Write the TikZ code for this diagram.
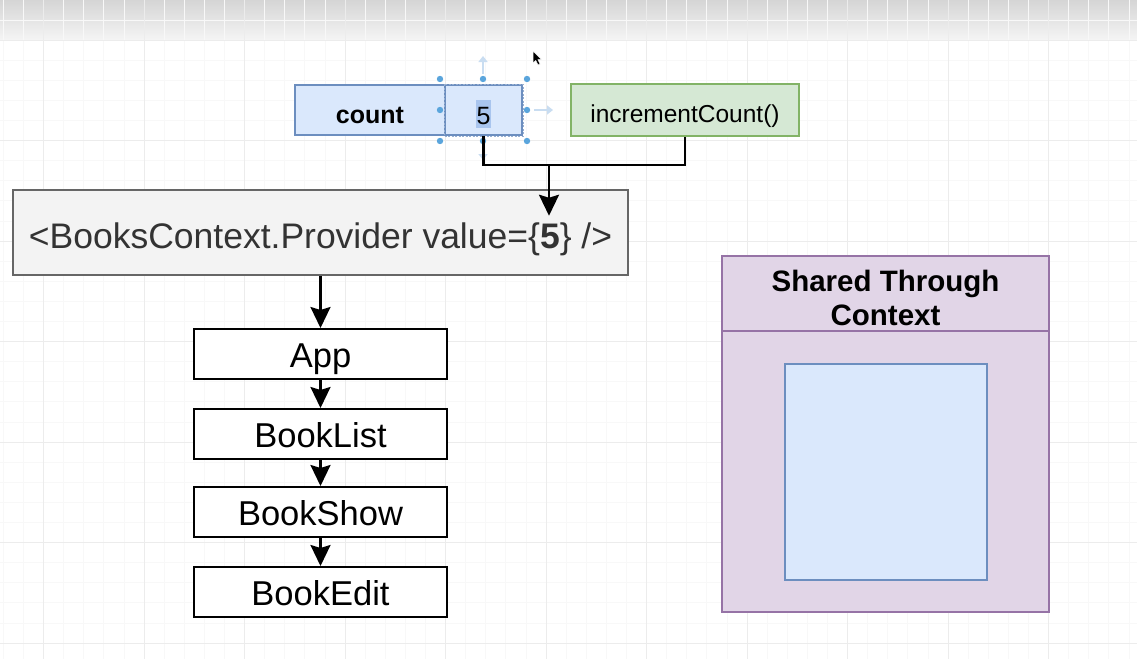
\documentclass[tikz,border=0pt]{standalone}
\usepackage{fontspec}
\setmainfont{Liberation Sans}
\setsansfont{Liberation Sans}
\usetikzlibrary{arrows.meta}

\definecolor{blueFill}{HTML}{DAE8FC}
\definecolor{blueLine}{HTML}{6C8EBF}
\definecolor{greenFill}{HTML}{D5E8D4}
\definecolor{greenLine}{HTML}{82B366}
\definecolor{purpleFill}{HTML}{E1D5E7}
\definecolor{purpleLine}{HTML}{9673A6}
\definecolor{grayFill}{HTML}{F3F3F3}
\definecolor{grayLine}{HTML}{666666}
\definecolor{darkText}{HTML}{333333}
\definecolor{gridMinor}{HTML}{F8F8F8}
\definecolor{gridMajor}{HTML}{ECECEC}
\definecolor{handleBlue}{HTML}{5AA5DC}
\definecolor{paleBlue}{HTML}{C9DDF1}
\definecolor{selBlue}{HTML}{A9C5EE}

\begin{document}
\begin{tikzpicture}[x=1pt,y=-1pt,
  cell/.style={draw, inner sep=0pt, line width=2pt},
  comp/.style={cell, draw=black, fill=white, minimum width=253pt, minimum height=50pt,
    font=\fontsize{34.5}{40}\selectfont, text height=30pt, text depth=4pt},
  conn/.style={line width=2.5pt, black},
  arr/.style={conn, -{Stealth[length=21pt 0 0,width=20pt 0 0,inset=3pt 0 0]}},
  handle/.style={fill=handleBlue},
  hint/.style={line width=2.5pt, paleBlue, -{Triangle[length=6pt,width=9pt]}}
]
\useasboundingbox (0,0) rectangle (1137,659);
\fill[white] (0,0) rectangle (1137,659);

% toolbar shadow band at the top, darker at its upper edge
\shade[top color=gray!33, bottom color=gray!8] (0,0) rectangle (1137,40);
\draw[gray!12, line width=1pt] (0,40) -- (1137,40);

% canvas grid: minor lines every 20.1, major every 100.5
\foreach \i in {0,...,57} {
  \pgfmathsetmacro{\gx}{3.3+20.1*\i}
  \draw[gridMinor, line width=0.8pt] (\gx,0) -- (\gx,659);
}
\foreach \i in {0,...,33} {
  \pgfmathsetmacro{\gy}{-0.2+20.1*\i}
  \draw[gridMinor, line width=0.8pt] (0,\gy) -- (1137,\gy);
}
\foreach \i in {0,...,11} {
  \pgfmathsetmacro{\gx}{43.5+100.5*\i}
  \draw[gridMajor, line width=1pt] (\gx,0) -- (\gx,659);
}
\foreach \i in {0,...,6} {
  \pgfmathsetmacro{\gy}{40+100.5*\i}
  \draw[gridMajor, line width=1pt] (0,\gy) -- (1137,\gy);
}

% state: count = 5
\node[cell, draw=blueLine, fill=blueFill, minimum width=150pt, minimum height=50pt,
  font=\bfseries\fontsize{25}{30}\selectfont, text height=30pt, text depth=4pt]
  (count) at (370,110) {count};
\node[cell, draw=blueLine, fill=blueFill, minimum width=77pt, minimum height=50pt]
  (five) at (483.5,110) {};
\draw[blueLine!70!white, line width=1pt, dash pattern=on 2pt off 1.5pt]
  (five.north west) rectangle (five.south east);
\fill[selBlue] (476,100) rectangle (491,128);
\node[inner sep=0pt, font=\fontsize{25}{30}\selectfont, anchor=base] (fivetext) at (483.5,124) {5};

% setter
\node[cell, draw=greenLine, fill=greenFill, minimum width=228pt, minimum height=52pt,
  font=\fontsize{24.5}{30}\selectfont, text height=30pt, text depth=6pt]
  (inc) at (685,110) {incrementCount()};

% selection handles around the value cell
\draw[hint] (483,74) -- (483,56);
\draw[hint] (534,110) -- (553,110);
\draw[hint] (483,146) -- (483,160);
\foreach \p in {(440,79),(483,79),(527,79),(440,110),(527,110),(440,141),(483,141),(527,141)}
  \fill[handle] \p circle (3.2);

% mouse pointer
\fill[black, draw=white, line width=0.5pt]
  (533,51) -- (533,63) -- (535.8,60.5) -- (538,65) -- (540,64) -- (537.9,59.6) -- (541.6,59.6) -- cycle;

% provider
\node[cell, draw=grayLine, line width=2.5pt, fill=grayFill, minimum width=615pt, minimum height=85pt,
  font=\fontsize{35.5}{40}\selectfont, text=darkText, text height=35pt, text depth=4pt]
  (prov) at (320.5,232.5) {<BooksContext.Provider value=\{{\bfseries 5}\} />};

% connectors from state and setter into the provider
\coordinate (join) at (549,165);
\path (join |- prov.north) ++(0,27) coordinate (tip);
\draw[conn] (five.south) |- (join) -| (inc.south);
\draw[arr] (join) -- (tip);

% component tree
\node[comp] (app)  at (320.5,354) {App};
\node[comp] (list) at (320.5,434) {BookList};
\node[comp] (show) at (320.5,512) {BookShow};
\node[comp] (edit) at (320.5,592) {BookEdit};
\draw[arr] (prov.south) -- (app.north);
\draw[arr] (app.south)  -- (list.north);
\draw[arr] (list.south) -- (show.north);
\draw[arr] (show.south) -- (edit.north);

% shared-through-context container
\node[cell, draw=purpleLine, fill=purpleFill, minimum width=327pt, minimum height=356pt]
  (shared) at (885.5,434) {};
\coordinate (divy) at (0,331);
\draw[purpleLine, line width=2pt] (shared.west |- divy) -- (shared.east |- divy);
\node[inner sep=0pt, anchor=base, font=\bfseries\fontsize{29.5}{34}\selectfont]
  (head) at (885.5,291) {\begin{tabular}[t]{@{}c@{}}Shared Through\\Context\end{tabular}};
\node[cell, draw=blueLine, fill=blueFill, minimum width=202pt, minimum height=216pt]
  (inner) at (886,472) {};
\end{tikzpicture}
\end{document}
